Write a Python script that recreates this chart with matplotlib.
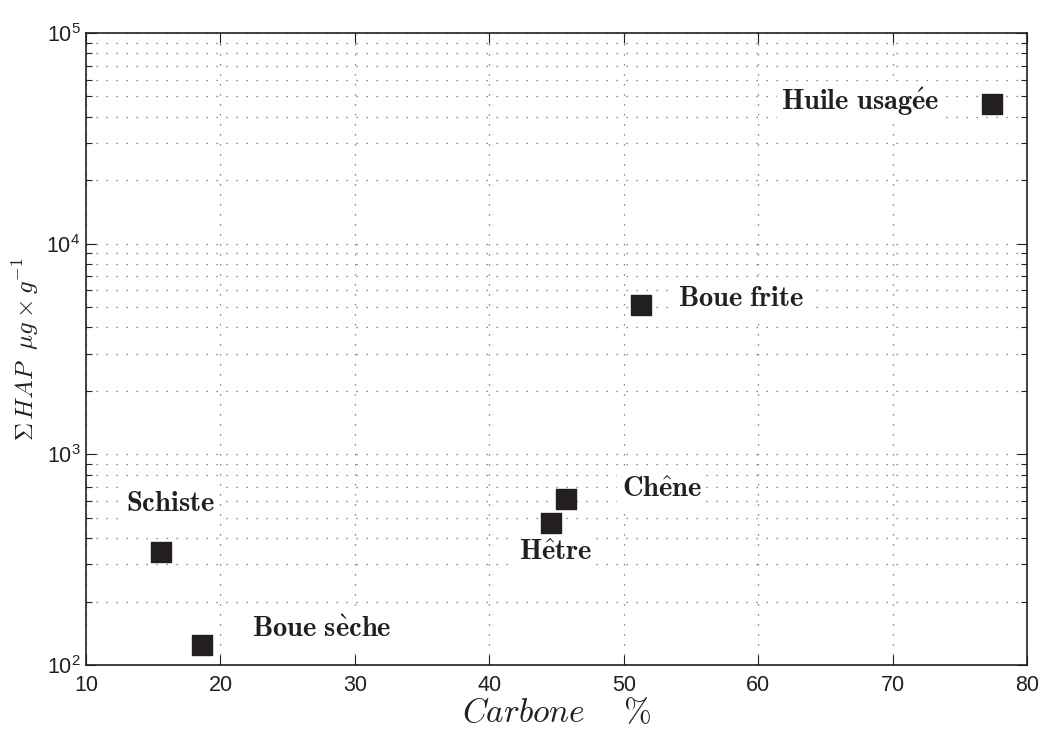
import matplotlib
matplotlib.use("Agg")
import matplotlib.pyplot as plt
from matplotlib.ticker import FixedLocator, LogLocator, NullFormatter

plt.rcParams["font.family"] = ["Liberation Sans", "DejaVu Sans"]
plt.rcParams["mathtext.fontset"] = "cm"

# data
samples = ["Schiste", "Boue sèche", "Hêtre", "Chêne", "Boue frite", "Huile usagée"]
carbone = [15.6, 18.6, 44.6, 45.7, 51.3, 77.4]
hap = [344, 124, 472, 614, 5100, 46000]

# label text (mathtext, bold Computer Modern) and where it sits
label_tex = [r"$\mathbf{Schiste}$", r"$\mathbf{Boue\ s\grave{e}che}$", r"$\mathbf{H\hat{e}tre}$",
             r"$\mathbf{Ch\hat{e}ne}$", r"$\mathbf{Boue\ frite}$", r"$\mathbf{Huile\ usag\acute{e}e}$"]
label_x = [16.3, 27.5, 44.9, 52.8, 58.7, 67.6]
label_y = [581, 147, 340, 677, 5460, 47000]

xticks = [10, 20, 30, 40, 50, 60, 70, 80]
yticks = [1e2, 1e3, 1e4, 1e5]
ytick_labels = [r"$\mathregular{10^{2}}$", r"$\mathregular{10^{3}}$",
                r"$\mathregular{10^{4}}$", r"$\mathregular{10^{5}}$"]

fig = plt.figure(figsize=(10.45, 7.33), dpi=100)
ax = fig.add_axes([0.0823, 0.0928, 0.9007, 0.8622])

ax.set_yscale("log")
ax.set_xlim(10, 80)
ax.set_ylim(1e2, 1e5)

ax.scatter(carbone, hap, marker="s", s=190, color="#231f20", zorder=3)

for t, x, y in zip(label_tex, label_x, label_y):
    ax.text(x, y, t, ha="center", va="center", fontsize=20.5, color="#231f20",
            bbox=dict(facecolor="white", edgecolor="none", pad=3), zorder=4)

ax.xaxis.set_major_locator(FixedLocator(xticks))
ax.yaxis.set_major_locator(FixedLocator(yticks))
ax.yaxis.set_minor_locator(LogLocator(base=10, subs=range(2, 10)))
ax.yaxis.set_minor_formatter(NullFormatter())
ax.set_yticklabels(ytick_labels)
ax.set_xticklabels([str(v) for v in xticks])

ax.grid(True, which="major", linestyle=(0, (1, 7)), color="#666666", linewidth=0.9)
ax.grid(True, which="minor", axis="y", linestyle=(0, (1, 7)), color="#666666", linewidth=0.9)

ax.tick_params(which="both", direction="in", top=True, right=True, labelsize=15.5, colors="#231f20")
ax.tick_params(which="major", length=7, width=0.8)
ax.tick_params(which="minor", length=4, width=0.8)
ax.tick_params(axis="x", pad=7)
ax.tick_params(axis="y", pad=4)
for sp in ax.spines.values():
    sp.set_linewidth(1.2)
    sp.set_color("#231f20")

ax.set_xlabel(r"$Carbone\ \ \ \ \%$", fontsize=24, labelpad=2, color="#231f20")
ax.set_ylabel(r"$\Sigma\, HAP\ \ \mu g \times g^{-1}$", fontsize=18, labelpad=4, color="#231f20")

fig.savefig("out.png", dpi=100)
